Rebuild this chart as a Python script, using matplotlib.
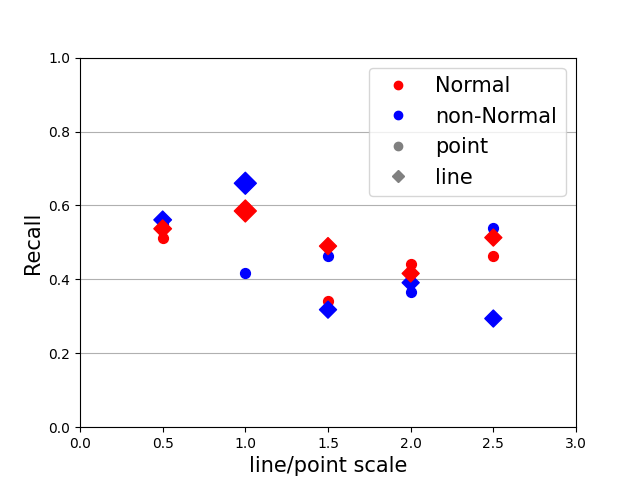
import matplotlib
matplotlib.use("Agg")
import matplotlib.pyplot as plt
from matplotlib.lines import Line2D

scales = [0.5, 1.0, 1.5, 2.0, 2.5]
normal_point = [0.511, 0.595, 0.342, 0.441, 0.464]
nonnormal_point = [0.550, 0.416, 0.464, 0.367, 0.540]
normal_line = [0.537, 0.585, 0.490, 0.416, 0.513]
nonnormal_line = [0.561, 0.660, 0.318, 0.391, 0.294]

# marker styling (not data)
diamond_sizes = [80, 125, 75, 75, 75]

fig, ax = plt.subplots(figsize=(6.4, 4.8), dpi=100)
ax.grid(axis='y', color='#b0b0b0')
ax.set_axisbelow(True)

ax.scatter(scales, nonnormal_point, color='blue', marker='o', s=50, zorder=3)
ax.scatter(scales, normal_point, color='red', marker='o', s=50, zorder=3)
ax.scatter(scales, nonnormal_line, color='blue', marker='D', s=diamond_sizes, zorder=3)
ax.scatter(scales, normal_line, color='red', marker='D', s=diamond_sizes, zorder=3)

ax.set_xlim(0, 3)
ax.set_ylim(0, 1)
ax.set_xlabel('line/point scale', fontsize=15)
ax.set_ylabel('Recall', fontsize=15)

handles = [
    Line2D([], [], color='red', marker='o', linestyle='None'),
    Line2D([], [], color='blue', marker='o', linestyle='None'),
    Line2D([], [], color='grey', marker='o', linestyle='None'),
    Line2D([], [], color='grey', marker='D', linestyle='None'),
]
ax.legend(handles, ['Normal', 'non-Normal', 'point', 'line'], loc='upper right', fontsize=15)

fig.savefig('out.png', dpi=100)
